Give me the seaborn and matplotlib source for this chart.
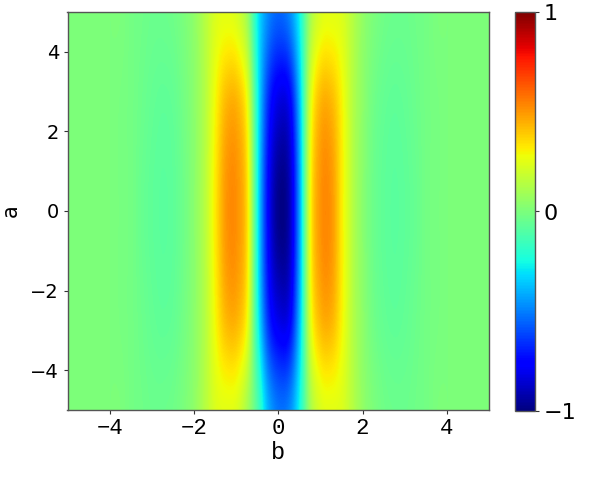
import numpy as np
import matplotlib
matplotlib.use("Agg")
import matplotlib.pyplot as plt
import seaborn as sns

# sample positions
b_values = [-5.0, -4.75, -4.5, -4.25, -4.0, -3.75, -3.5, -3.25, -3.0, -2.75,
            -2.5, -2.25, -2.0, -1.75, -1.5, -1.25, -1.0, -0.75, -0.5, -0.25,
            0.0, 0.25, 0.5, 0.75, 1.0, 1.25, 1.5, 1.75, 2.0, 2.25,
            2.5, 2.75, 3.0, 3.25, 3.5, 3.75, 4.0, 4.25, 4.5, 4.75, 5.0]
a_values = [-5.0, -2.5, 0.0, 2.5, 5.0]

# field values along b for each a row
row_a_m5 = [0, 0, 0, 0, 0, 0, -0.02, -0.03, -0.04, -0.04,
            -0.03, 0.0, 0.05, 0.14, 0.23, 0.25, 0.23, 0.1, -0.12, -0.4,
            -0.52, -0.48, -0.24, 0.1, 0.23, 0.25, 0.23, 0.14, 0.05, 0.0,
            -0.03, -0.04, -0.04, -0.03, -0.02, 0, 0, 0, 0, 0, 0]
row_a_m2p5 = [0, 0, 0, 0, 0, -0.01, -0.02, -0.04, -0.06, -0.07,
              -0.06, -0.02, 0.04, 0.14, 0.3, 0.44, 0.45, 0.29, -0.25, -0.68,
              -0.84, -0.8, -0.36, 0.25, 0.45, 0.45, 0.3, 0.14, 0.04, -0.03,
              -0.06, -0.07, -0.06, -0.04, -0.02, -0.01, 0, 0, 0, 0, 0]
row_a_0 = [0, 0, 0, 0, 0, -0.01, -0.02, -0.05, -0.07, -0.08,
           -0.07, -0.03, 0.04, 0.15, 0.33, 0.5, 0.51, 0.34, -0.27, -0.76,
           -0.98, -0.9, -0.4, 0.29, 0.51, 0.5, 0.31, 0.14, 0.03, -0.04,
           -0.07, -0.08, -0.07, -0.05, -0.02, -0.01, 0, 0, 0, 0, 0]
row_a_p2p5 = [0, 0, 0, 0, 0, -0.01, -0.02, -0.04, -0.06, -0.07,
              -0.06, -0.02, 0.04, 0.14, 0.3, 0.44, 0.45, 0.28, -0.26, -0.68,
              -0.85, -0.8, -0.36, 0.24, 0.45, 0.44, 0.3, 0.14, 0.04, -0.03,
              -0.06, -0.07, -0.06, -0.04, -0.02, -0.01, 0, 0, 0, 0, 0]
row_a_p5 = [0, 0, 0, 0, 0, 0, -0.02, -0.03, -0.04, -0.04,
            -0.03, 0.0, 0.05, 0.14, 0.23, 0.25, 0.22, 0.08, -0.28, -0.48,
            -0.55, -0.48, -0.25, 0.1, 0.23, 0.25, 0.23, 0.14, 0.05, 0.0,
            -0.03, -0.04, -0.04, -0.03, -0.02, 0, 0, 0, 0, 0, 0]

x_ticks = [-4, -2, 0, 2, 4]
y_ticks = [-4, -2, 0, 2, 4]
cbar_ticks = [-1, 0, 1]

sns.set_theme(style="white")
plt.rcParams['font.family'] = ['DejaVu Sans']
plt.rcParams['text.color'] = 'black'
plt.rcParams['xtick.color'] = 'black'
plt.rcParams['ytick.color'] = 'black'
plt.rcParams['axes.labelcolor'] = 'black'

Z = np.array([row_a_m5, row_a_m2p5, row_a_0, row_a_p2p5, row_a_p5])

fig = plt.figure(figsize=(5.98, 4.94), dpi=100)
ax = fig.add_axes([67.5 / 598, 84 / 494, 421.5 / 598, 398 / 494])
cax = fig.add_axes([515 / 598, 83 / 494, 20 / 598, 399 / 494])

db = (b_values[1] - b_values[0]) / 2
da = (a_values[1] - a_values[0]) / 2
im = ax.imshow(Z, cmap="jet", vmin=-1, vmax=1, origin="lower", aspect="auto",
               interpolation="catrom",
               extent=[b_values[0] - db, b_values[-1] + db,
                       a_values[0] - da, a_values[-1] + da])
ax.set_xlim(-5, 5)
ax.set_ylim(-5, 5)

def fmt(v):
    return f"{v}".replace("-", "\u2212")

ax.set_xticks(x_ticks)
ax.set_yticks(y_ticks)
ax.set_xticklabels([fmt(v) for v in x_ticks], family="Liberation Mono", fontsize=16)
ax.set_yticklabels([fmt(v) for v in y_ticks], family="DejaVu Sans", fontsize=14)
ax.set_xlabel("b", family="Liberation Mono", fontsize=17)
ax.set_ylabel("a", family="DejaVu Sans", fontsize=15)
ax.xaxis.set_label_coords(0.5, -0.078)
ax.yaxis.set_label_coords(-0.11, 0.5)
ax.tick_params(axis="both", which="major", length=3, width=0.8,
               color="#333333", direction="out", bottom=True, left=True, pad=3)
for s in ax.spines.values():
    s.set_color("#555555")
    s.set_linewidth(1.0)

cb = fig.colorbar(im, cax=cax, ticks=cbar_ticks)
cb.ax.set_yticklabels([fmt(v) for v in cbar_ticks], family="DejaVu Sans", fontsize=16)
cb.ax.tick_params(length=3, width=0.8, color="#333333", right=True, pad=3)
cb.outline.set_edgecolor("#555555")
cb.outline.set_linewidth(1.0)

fig.savefig("out.png", dpi=100)
